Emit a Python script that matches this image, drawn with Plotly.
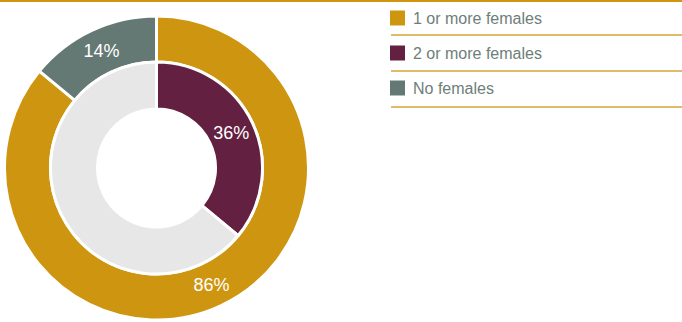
import plotly.graph_objects as go

W, H = 682, 322

# Data
outer_labels = ["1 or more females", "No females"]
outer_values = [86, 14]
inner_labels = ["2 or more females", "Other"]
inner_values = [36, 64]

legend_labels = ["1 or more females", "2 or more females", "No females"]

GOLD = "#CE9610"
MAROON = "#642041"
SLATE = "#647974"
LIGHT = "#E6E7E6"
TEXT = "#6E7E79"
legend_colors = [GOLD, MAROON, SLATE]

def px_x(x):
    return x / W

def px_y(y):
    return 1 - y / H

cx, cy = 156.5, 168
r_out, r_in = 152, 106

fig = go.Figure()
fig.add_trace(go.Pie(
    labels=outer_labels, values=outer_values,
    text=[f"{v}%" for v in outer_values], textinfo="text",
    hole=(106 / r_out), sort=False, direction="clockwise", rotation=0,
    marker=dict(colors=[GOLD, SLATE], line=dict(color="white", width=3)),
    textposition="inside", insidetextorientation="horizontal",
    insidetextfont=dict(color="white", size=18, family="Liberation Sans, Arial"),
    domain=dict(x=[px_x(cx - r_out), px_x(cx + r_out)], y=[px_y(cy + r_out), px_y(cy - r_out)]),
    showlegend=False, hoverinfo="label+percent",
))
fig.add_trace(go.Pie(
    labels=inner_labels, values=inner_values,
    text=[f"{inner_values[0]}%", ""], textinfo="text",
    hole=(59 / r_in), sort=False, direction="clockwise", rotation=0,
    marker=dict(colors=[MAROON, LIGHT], line=dict(color="white", width=3)),
    textposition="inside", insidetextorientation="horizontal",
    insidetextfont=dict(color="white", size=18, family="Liberation Sans, Arial"),
    domain=dict(x=[px_x(cx - r_in), px_x(cx + r_in)], y=[px_y(cy + r_in), px_y(cy - r_in)]),
    showlegend=False, hoverinfo="label+percent",
))

shapes = [dict(type="line", xref="paper", yref="paper", x0=0, x1=1,
               y0=px_y(1), y1=px_y(1), line=dict(color=GOLD, width=2))]
annotations = []
for i, (lab, col) in enumerate(zip(legend_labels, legend_colors)):
    yc = 18 + 35 * i
    shapes.append(dict(type="rect", xref="paper", yref="paper",
                       x0=px_x(390), x1=px_x(405), y0=px_y(yc + 7.5), y1=px_y(yc - 7.5),
                       fillcolor=col, line=dict(width=0)))
    shapes.append(dict(type="line", xref="paper", yref="paper",
                       x0=px_x(391), x1=1, y0=px_y(35 + 36 * i), y1=px_y(35 + 36 * i),
                       line=dict(color="#D6A53A", width=1.5)))
    annotations.append(dict(xref="paper", yref="paper", x=px_x(411), y=px_y(yc),
                            xanchor="left", yanchor="middle", text=lab, showarrow=False,
                            font=dict(color=TEXT, size=16, family="Liberation Sans, Arial")))

fig.update_layout(
    width=W, height=H, margin=dict(l=0, r=0, t=0, b=0),
    paper_bgcolor="white", plot_bgcolor="white",
    shapes=shapes, annotations=annotations, showlegend=False,
)
fig.write_html("out.html")
